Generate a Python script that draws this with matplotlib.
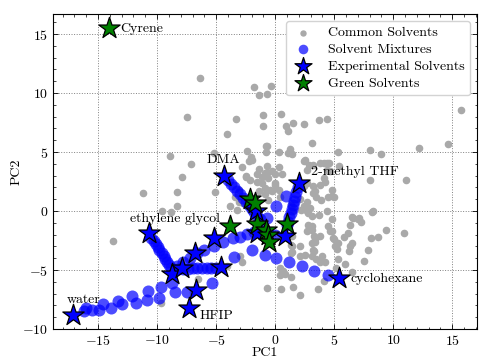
import matplotlib
matplotlib.use("Agg")
import matplotlib.pyplot as plt
from matplotlib.ticker import AutoMinorLocator

plt.rcParams['font.family'] = 'serif'
plt.rcParams['font.serif'] = ['cmr10']
plt.rcParams['mathtext.fontset'] = 'cm'
plt.rcParams['axes.formatter.use_mathtext'] = True
plt.rcParams['font.size'] = 10

# common solvents (gray)
common_x = [-6.4, -1.8, -1.4, -0.7, -7.5, -3.3, -1.0, -1.0, -4.1, -0.7, -8.9, -7.1, -5.2, -2.4, -2.05, -2.2,
            -2.8, -2.45, -0.7, -7.9, -11.2, -8.3, -8.3, -9.6, -8.8, -5.1, -13.75,
            0.5, 0.9, 1.55, 2.4, 1.1, 3.7, 3.15, -0.8, 0.3, 1.27, 1.1, 2.4, 3.2, 4.4, 4.65, 0.3, 0.55, 0.0,
            -0.7, -1.4, -1.5, -0.3, -2.5, -2.1, -1.55, -1.1, -0.9, -1.4, -0.85, -0.57, -0.4, 0.0, 2.7, 3.2,
            3.8, 4.2, 3.2, 3.9, 4.5, 4.8, -3.1, -3.4, -3.8,
            15.7, 14.6, 12.2, 9.0, 8.0, 5.35, 11.05, 8.0, 4.8, 5.0, 8.2, 6.6, 7.1, 7.25, 6.35, 4.8, 4.9, 5.2,
            5.1, 5.8, 6.2, 9.4, 10.9, 8.1, 8.7, 6.35, 6.25, 7.9, 7.5, 5.35, 5.9, 5.15, 6.5, 6.5,
            4.4, 3.75, 3.1, 2.7, 2.4, 4.8, 4.5, 3.1, 2.7, 2.1, 1.4, -3.2, -2.7, -3.1,
            -0.7, 0.5, 1.5, 2.1, 3.6, 0.65, 0.45, 0.85, 1.3, 0.4, -2.8, -3.0, 1.3, 2.5, 3.15, 3.3, 4.2, 4.1,
            3.15, 3.4, 3.3, 3.8, 3.4, 3.2, 3.95, 3.5, 3.8, 2.8, 3.1, 2.8, 2.96, 2.2, 1.55, 1.3, 1.4, 1.35,
            1.4, 2.1, 2.1, 2.7, 4.1, 4.6, 5.4, 3.8, 6.5, 7.0, 8.3, 5.0, 5.3, 5.2, 4.65,
            -9.7, -6.5, -4.1, -7.0, -0.36, 4.4, -0.76, -2.0, 1.4, 2.5, 2.9, 2.7, 4.1, 4.4,
            -1.1, -0.85, -0.57, 0.0, -0.3, 0.3, 0.4, 2.4, 3.4, 3.5]
common_y = [11.3, 10.5, 9.8, 9.9, 8.0, 7.8, 8.1, 7.2, 6.5, 5.5, 4.7, 4.0, 4.9, 5.1, 4.6, 4.2,
            3.7, 3.0, 3.8, 2.9, 1.5, 1.6, 0.4, 0.0, -0.1, 1.6, -2.5,
            8.2, 7.2, 7.5, 7.4, 6.8, 7.7, 5.8, 5.0, 5.0, 5.25, 4.9, 4.2, 3.9, 4.1, 3.35, 3.7, 3.1, 3.1,
            3.2, 3.6, 3.1, 3.35, 2.9, 2.6, 2.5, 2.4, 1.95, 1.7, 1.4, 0.96, 1.8, 2.2, 2.4, 2.1,
            2.2, 2.5, 1.5, 0.96, 1.2, 1.8, 1.8, 1.2, 0.4,
            8.6, 5.7, 5.3, 4.8, 5.2, 5.0, 2.65, 2.6, 1.24, 1.2, -0.1, -0.6, -0.6, -0.9, -1.16, -1.7, -2.3, -2.7,
            -3.0, -2.2, -1.9, -1.6, -1.9, -2.3, -2.2, -3.0, -3.4, -3.3, -4.2, -4.1, -4.5, -4.8, -5.2, -2.7,
            0.0, -0.3, -0.45, 0.0, 0.4, -0.7, -1.3, -1.3, -1.7, -3.0, -3.0, 0.1, 0.7, 0.8,
            -6.5, -6.6, -6.4, -7.1, -6.6, -5.1, -5.4, -5.3, -5.6, -4.8, -4.3, -3.8, -3.6, -3.7, -3.8, -3.4, -4.3, -5.9,
            -2.7, -2.4, -2.15, -2.15, -2.6, -3.3, -3.8, -4.1, -4.3, -1.16, -1.6, -0.2, 0.25, 0.1, 0.1, 0.5, -2.15, -2.85,
            -3.5, -3.8, 1.0, 0.8, 2.8, 4.1, 3.8, 4.1, -0.5, -0.7, 0.0, -2.4, -2.7, -3.2, -1.7,
            -7.8, -5.8, -4.7, -6.9, 10.6, 7.8, 5.5, 4.3, 4.8, 4.3, 3.9, 3.5, 4.1, 3.5,
            2.9, 3.2, 2.8, 2.4, 1.7, 1.8, 1.2, 2.1, 1.7, 1.2]

# solvent mixtures (blue dots)
mix_x = [-16.2, -15.5, -14.9, -13.9, -13.0, -11.8, -10.85, -9.8, -8.45, -7.5, -5.35, -3.5, -2.0, -0.9,
         0.1, 1.2, 2.25, 3.3, 4.45,
         -16.0, -14.6, -13.3, -12.1, -10.8, -9.7, -8.7,
         -10.5, -10.3, -10.1, -9.95, -9.8, -9.6, -9.45, -9.3, -9.15, -9.0, -8.85,
         -8.2, -7.8, -7.4, -7.0, -6.6, -6.2, -5.8, -5.4, -5.0,
         -8.3, -7.8, -7.2, -6.6, -6.0, -5.2, -4.4, -3.6, -3.0, -2.4, -1.8, -1.2, -0.6, 0.0,
         -4.0, -3.75, -3.5, -3.25, -3.0, -2.75, -2.5, -2.25, -2.0, -1.75, -1.5, -1.25,
         1.9, 1.8, 1.7, 1.6, 1.5, 1.4, 1.3, 1.2, 1.1, 1.0,
         0.9, 0.1, -0.7]
mix_y = [-8.5, -8.4, -8.4, -8.2, -7.9, -7.8, -7.5, -7.4, -6.9, -6.9, -6.1, -3.9, -3.3, -3.7,
         -4.0, -4.3, -4.7, -5.05, -5.4,
         -8.2, -7.9, -7.65, -7.2, -6.8, -6.4, -6.1,
         -2.3, -2.55, -2.8, -3.05, -3.3, -3.55, -3.8, -4.05, -4.3, -4.55, -4.8,
         -4.9, -4.9, -4.9, -4.85, -4.85, -4.85, -4.8, -4.8, -4.8,
         -4.7, -4.3, -4.0, -3.6, -3.3, -3.0, -2.6, -2.3, -2.2, -1.95, -1.75, -1.6, -1.8, -2.0,
         2.6, 2.3, 2.0, 1.7, 1.4, 1.1, 0.8, 0.5, 0.2, -0.1, -0.4, -0.7,
         2.0, 1.6, 1.2, 0.85, 0.5, 0.15, -0.2, -0.55, -0.9, -1.2,
         1.3, 0.4, -0.6]

# experimental solvents (blue stars)
exp_x = [-17.1, -7.3, -6.7, -8.7, -7.85, -6.8, -5.2, -4.55, -10.7, -4.3, 2.05, 0.8, 5.4, -1.6, -1.5]
exp_y = [-8.8, -8.2, -6.7, -5.3, -4.8, -3.6, -2.3, -4.75, -1.9, 3.0, 2.4, -2.1, -5.7, 0.0, -1.9]

# green solvents
green_x = [-14.1, -2.1, -1.7, -3.8, -1.5, -0.8, -0.6, -0.5, 1.0]
green_y = [15.5, 1.0, 0.7, -1.3, -1.1, -1.6, -2.0, -2.6, -1.1]

labels = ['Cyrene', 'DMA', '2-methyl THF', 'ethylene glycol', 'water', 'HFIP', 'cyclohexane']
label_x = [-13.1, -4.4, 3.0, -8.5, -16.2, -6.4, 6.4]
label_y = [15.4, 4.3, 3.3, -0.7, -7.5, -8.9, -5.8]
label_ha = ['left', 'center', 'left', 'center', 'center', 'left', 'left']

fig = plt.figure(figsize=(4.79, 3.58), dpi=100)
ax = fig.add_axes([0.111, 0.081, 0.885, 0.880])

ax.scatter(common_x, common_y, s=20, color='darkgray', zorder=2, label='Common Solvents')
ax.scatter(mix_x, mix_y, s=75, color='blue', alpha=0.7, linewidths=0, zorder=3, label='Solvent Mixtures')
ax.scatter(exp_x, exp_y, s=260, marker='*', color='blue', edgecolors='black', linewidths=0.9,
           zorder=4, label='Experimental Solvents')
ax.scatter(green_x, green_y, s=260, marker='*', color='green', edgecolors='black', linewidths=0.9,
           zorder=5, label='Green Solvents')

for t, x, y, ha in zip(labels, label_x, label_y, label_ha):
    ax.text(x, y, t, ha=ha, va='center', fontsize=10, zorder=6)

ax.set_xlim(-18.8, 17.1)
ax.set_ylim(-10, 16.7)
ax.set_xlabel('PC1')
ax.set_ylabel('PC2')
ax.xaxis.set_label_coords(0.5, -0.057)
ax.yaxis.set_label_coords(-0.072, 0.5)
ax.xaxis.set_minor_locator(AutoMinorLocator(5))
ax.yaxis.set_minor_locator(AutoMinorLocator(5))
ax.tick_params(which='both', direction='in', top=True, right=True)
ax.tick_params(which='major', length=3.5, width=0.6)
ax.tick_params(which='minor', length=1.8, width=0.5)
ax.grid(True, linestyle=':', color='gray', linewidth=0.7, zorder=0)
ax.set_axisbelow(True)

leg = ax.legend(loc='upper right', fontsize=10, framealpha=1, edgecolor='lightgray',
                markerscale=0.8, handlelength=1.6, handletextpad=1.0, borderpad=0.4,
                labelspacing=0.3)

fig.savefig('out.png', dpi=100)
